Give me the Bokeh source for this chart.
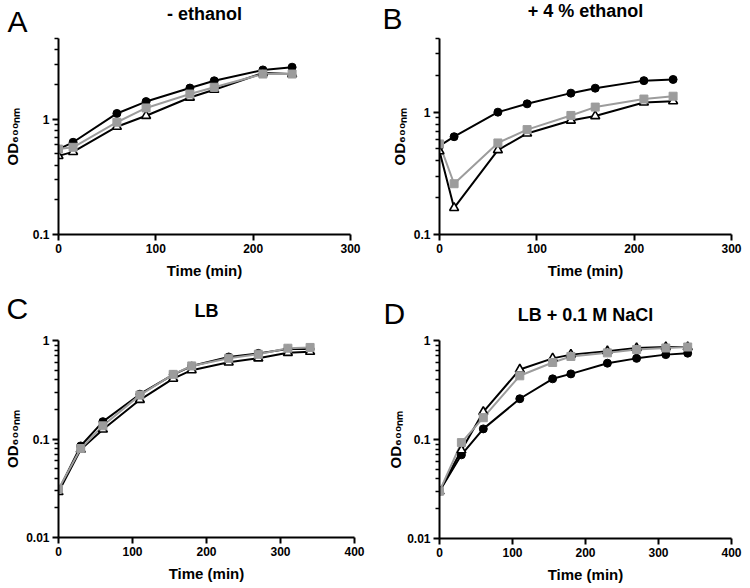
from bokeh.plotting import figure
from bokeh.layouts import gridplot
from bokeh.models import Range1d, FixedTicker, CustomJSTickFormatter, Title
from bokeh.embed import file_html
from bokeh.resources import INLINE

# ---------------- data ----------------
times_AB = [0, 15, 60, 90, 135, 160, 210, 240]
A_circle = [0.55, 0.63, 1.12, 1.42, 1.86, 2.15, 2.67, 2.82]
A_triangle = [0.48, 0.52, 0.86, 1.07, 1.54, 1.80, 2.51, 2.46]
A_square = [0.55, 0.57, 0.94, 1.25, 1.65, 1.89, 2.46, 2.46]

B_circle = [0.53, 0.63, 1.00, 1.17, 1.43, 1.57, 1.81, 1.85]
B_triangle = [0.48, 0.165, 0.49, 0.67, 0.855, 0.93, 1.20, 1.23]
B_square = [0.55, 0.26, 0.56, 0.72, 0.94, 1.10, 1.28, 1.35]

times_CD = [0, 30, 60, 110, 155, 180, 230, 270, 310, 340]
C_circle = [0.030, 0.085, 0.150, 0.285, 0.45, 0.55, 0.68, 0.74, 0.82, 0.82]
C_triangle = [0.029, 0.078, 0.125, 0.250, 0.41, 0.50, 0.60, 0.66, 0.75, 0.77]
C_square = [0.031, 0.080, 0.136, 0.279, 0.453, 0.552, 0.66, 0.725, 0.835, 0.85]

D_circle = [0.030, 0.070, 0.128, 0.258, 0.41, 0.46, 0.59, 0.66, 0.72, 0.745]
D_triangle = [0.030, 0.078, 0.190, 0.510, 0.66, 0.72, 0.78, 0.84, 0.86, 0.86]
D_square = [0.030, 0.093, 0.166, 0.440, 0.60, 0.69, 0.75, 0.81, 0.84, 0.86]

letters = ["A", "B", "C", "D"]
titles = ["- ethanol", "+ 4 % ethanol", "LB", "LB + 0.1 M NaCl"]
x_label = "Time (min)"
y_label = "OD\u2086\u2080\u2080\u2099\u2098"
x_ticks_AB = [0, 100, 200, 300]
x_ticks_CD = [0, 100, 200, 300, 400]
y_major_AB = [0.1, 1]
y_major_CD = [0.01, 0.1, 1]

FONT = "Liberation Sans"
GREY = "#9c9c9c"
EM = 1.117          # approx. line box height of Liberation Sans, in em
LETTER_PX = 30
TITLE_PX = 18
SPACER_PX = 10


def minor_ticks(lo, hi):
    out = []
    e = 0.001
    while e < hi:
        for m in range(2, 10):
            v = m * e
            if lo < v <= hi * 1.0001:
                out.append(v)
        e *= 10
    return out


def sized_title(text, px, size, **kw):
    # Bokeh gives a title panel the height 2 + text height + standoff
    return Title(text=text, standoff=size - 2 - EM * px, vertical_align="middle",
                 text_font=FONT, text_font_size=f"{px}px", text_color="black", **kw)


def panel(letter, title, times, circ, tri, sq, x_end, x_ticks, y_lo, y_hi, y_major,
          left, fw, right, top, fh, bottom, ylab_standoff, letter_x,
          stack):
    p = figure(frame_width=fw, frame_height=fh,
               min_border_left=left, min_border_right=right,
               min_border_top=top, min_border_bottom=bottom,
               x_range=Range1d(0, x_end), y_range=Range1d(y_lo, y_hi),
               y_axis_type="log", output_backend="svg", toolbar_location=None)
    p.outline_line_color = None
    p.xgrid.visible = False
    p.ygrid.visible = False
    p.background_fill_color = "white"
    p.border_fill_color = "white"

    for ax in (p.xaxis[0], p.yaxis[0]):
        ax.axis_line_width = 2
        ax.axis_line_color = "black"
        ax.major_tick_line_width = 2
        ax.major_tick_line_color = "black"
        ax.major_tick_out = 6
        ax.major_tick_in = 0
        ax.minor_tick_line_width = 1.5
        ax.minor_tick_line_color = "black"
        ax.minor_tick_out = 4
        ax.minor_tick_in = 0
        ax.major_label_text_font = FONT
        ax.major_label_text_font_size = "12px"
        ax.major_label_text_font_style = "bold"
        ax.major_label_text_color = "black"
        ax.major_label_standoff = 3
        ax.axis_label_text_font = FONT
        ax.axis_label_text_font_style = "bold"
        ax.axis_label_text_color = "black"

    p.xaxis.ticker = FixedTicker(ticks=x_ticks, minor_ticks=[])
    p.xaxis.axis_label = x_label
    p.xaxis.axis_label_text_font_size = "15px"
    p.xaxis.axis_label_standoff = 6

    p.yaxis.ticker = FixedTicker(ticks=y_major, minor_ticks=minor_ticks(y_lo, y_hi))
    p.yaxis.formatter = CustomJSTickFormatter(code="return tick.toString();")
    p.yaxis.axis_label = y_label
    p.yaxis.axis_label_text_font_size = "15px"
    p.yaxis.axis_label_standoff = ylab_standoff

    p.line(times, circ, line_color="black", line_width=2)
    p.line(times, tri, line_color="black", line_width=2)
    p.line(times, sq, line_color=GREY, line_width=2)
    p.scatter(times, circ, marker="circle", size=8, fill_color="black", line_color="black")
    p.scatter(times, tri, marker="triangle", size=9, fill_color="white",
              line_color="black", line_width=1.6)
    p.scatter(times, sq, marker="square", size=8, fill_color=GREY, line_color=GREY)

    # above-panel stack, from the frame outward: spacer, then letter / title rows
    spacer_h, order, letter_h, title_h = stack
    rows = {
        "letter": sized_title(letter, LETTER_PX, letter_h, align="left",
                              offset=letter_x - left, text_font_style="normal"),
        "title": sized_title(title, TITLE_PX, title_h, align="center",
                             text_font_style="bold"),
    }
    p.add_layout(sized_title(" ", SPACER_PX, spacer_h, align="center"), "above")
    for key in order:
        p.add_layout(rows[key], "above")
    return p


pA = panel(letters[0], titles[0], times_AB, A_circle, A_triangle, A_square,
           300, x_ticks_AB, 0.1, 5, y_major_AB,
           52, 292, 23, 35, 196, 57, 9, 1,
           (16, ("letter", "title"), 4, 11))
pB = panel(letters[1], titles[1], times_AB, B_circle, B_triangle, B_square,
           300, x_ticks_AB, 0.1, 4, y_major_AB,
           62, 292, 19, 38, 196, 54, 3, 5,
           (19, ("letter", "title"), 4, 11))
pC = panel(letters[2], titles[2], times_CD, C_circle, C_triangle, C_square,
           400, x_ticks_CD, 0.01, 1, y_major_CD,
           53, 296, 18, 52, 197, 46, 2, 1,
           (28, ("title", "letter"), 2.7, 2.7))
pD = panel(letters[3], titles[3], times_CD, D_circle, D_triangle, D_square,
           400, x_ticks_CD, 0.01, 1, y_major_CD,
           66, 292, 15, 49, 198, 48, 0, 10,
           (25.5, ("title", "letter"), 1.7, 1.7))

grid = gridplot([[pA, pB], [pC, pD]], toolbar_location=None)

open("out.html", "w").write(file_html(grid, INLINE))
